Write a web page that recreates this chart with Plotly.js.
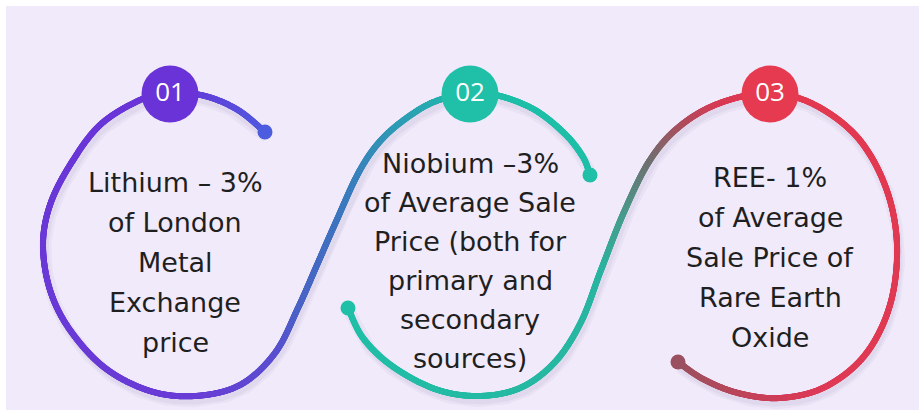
<!DOCTYPE html>
<html><head><meta charset="utf-8">
<script src="https://cdn.plot.ly/plotly-3.0.1.min.js"></script>
<style>html,body{margin:0;padding:0;background:#fff}#chart{width:923px;height:415px}</style>
</head><body><div id="chart"></div>
<script>
// ---- content ----
const badgeLabels = ['01', '02', '03'];
const badgeColors = ['#6a33d8', '#1fbfa8', '#e53a4f'];
const textLines1 = ['Lithium – 3%', 'of London', 'Metal', 'Exchange', 'price'];
const textLines2 = ['Niobium –3%', 'of Average Sale', 'Price (both for', 'primary and', 'secondary', 'sources)'];
const textLines3 = ['REE- 1%', 'of Average', 'Sale Price of', 'Rare Earth', 'Oxide'];

// ---- layout geometry (pixel space, y downward) ----
const W = 923, H = 415;
const badgeX = [170, 470, 770];
const badgeY = [94, 94, 94];
const textX = [175, 470, 770];
const textTop = [182, 163, 177];
const lineGap = [40, 39, 40];

// path waypoints: [x, y, colorStop or null]
const path1 = [
  [265,132,'#4d5ddf'],[238,110,null],[205,96,null],[170,93,'#6a35d8'],[140,100,null],[100,125,null],
  [70,165,null],[50,205,null],[43,245,null],[50,290,null],[70,330,null],[105,368,null],
  [150,391,null],[195,396,'#6a3dd6'],[240,385,null],[275,353,'#5a4fd0'],[298,308,'#4b62c6'],[317,265,null],
  [335,224,'#3f72c0'],[360,170,null],[385,136,null],[420,109,'#2aa6b2'],[448,97,null],[470,93,'#1fbfa8'],
  [500,96,null],[535,110,null],[565,134,null],[583,157,null],[590,175,'#1fbfa8']
];
const path2 = [
  [348,308,'#20c0a8'],[363,338,null],[392,366,null],[435,389,null],[478,396,null],[520,388,null],
  [555,362,null],[581,322,null],[601,270,'#2ab5a0'],[624,212,'#4a9a8c'],[650,160,'#707070'],[680,126,'#a8505f'],
  [720,103,'#d83a55'],[770,93,'#e33a50'],[815,105,null],[858,138,null],[886,188,null],[897,245,null],
  [890,305,null],[865,355,null],[825,387,'#df3a55'],[780,398,'#d23c58'],[738,393,null],[703,379,'#a84e5e'],[678,362,'#9a5060']
];

function hex2rgb(h){return [parseInt(h.slice(1,3),16),parseInt(h.slice(3,5),16),parseInt(h.slice(5,7),16)];}
function sampleSpline(pts){
  const xs=[], ys=[], idx=[];
  for(let i=0;i<pts.length-1;i++){
    const p0=pts[Math.max(i-1,0)], p1=pts[i], p2=pts[i+1], p3=pts[Math.min(i+2,pts.length-1)];
    const len=Math.hypot(p2[0]-p1[0],p2[1]-p1[1]);
    const n=Math.max(4,Math.ceil(len/0.6));
    for(let k=0;k<n;k++){
      const t=k/n, t2=t*t, t3=t2*t;
      const f=(a,b,c,d)=>0.5*((2*b)+(-a+c)*t+(2*a-5*b+4*c-d)*t2+(-a+3*b-3*c+d)*t3);
      xs.push(f(p0[0],p1[0],p2[0],p3[0])); ys.push(f(p0[1],p1[1],p2[1],p3[1])); idx.push(i+t);
    }
  }
  const last=pts[pts.length-1]; xs.push(last[0]); ys.push(last[1]); idx.push(pts.length-1);
  const stops=[]; pts.forEach((p,i)=>{if(p[2]) stops.push([i,hex2rgb(p[2])]);});
  const cols=idx.map(v=>{
    if(v<=stops[0][0]) return 'rgb('+stops[0][1].join(',')+')';
    for(let s=0;s<stops.length-1;s++){
      const a=stops[s], b=stops[s+1];
      if(v>=a[0]&&v<=b[0]){const u=(v-a[0])/(b[0]-a[0]);
        return 'rgb('+a[1].map((c,j)=>Math.round(c+(b[1][j]-c)*u)).join(',')+')';}
    }
    return 'rgb('+stops[stops.length-1][1].join(',')+')';
  });
  return {xs,ys,cols};
}

const traces=[];
// soft shadow
[path1,path2].forEach(p=>{
  const s=sampleSpline(p);
  [[12,0.05],[7,0.06]].forEach(([w,a])=>{
    traces.push({type:'scatter',mode:'lines',x:s.xs.map(v=>v+2),y:s.ys.map(v=>v+5),hoverinfo:'skip',
      line:{width:w,color:'rgba(90,70,130,'+a+')',shape:'linear'},showlegend:false});
  });
});
[path1,path2].forEach(p=>{
  const s=sampleSpline(p);
  traces.push({type:'scatter',mode:'markers',x:s.xs,y:s.ys,hoverinfo:'skip',
    marker:{size:6,color:s.cols,line:{width:0}},showlegend:false});
});
// end dots
const ends=[path1[0],path1[path1.length-1],path2[0],path2[path2.length-1]];
traces.push({type:'scatter',mode:'markers',x:ends.map(p=>p[0]),y:ends.map(p=>p[1]),hoverinfo:'skip',
  marker:{size:15,color:ends.map(p=>p[2]),line:{width:0}},showlegend:false});
// badges
traces.push({type:'scatter',mode:'markers+text',x:badgeX,y:badgeY,text:badgeLabels,
  textposition:'middle center',textfont:{family:'Open Sans, sans-serif',size:26,color:'#ffffff'},hoverinfo:'skip',
  marker:{size:57,color:badgeColors,line:{width:0}},showlegend:false});

const annotations=[];
[textLines1,textLines2,textLines3].forEach((lines,g)=>{
  lines.forEach((t,i)=>{
    annotations.push({x:textX[g],y:textTop[g]+i*lineGap[g],xref:'x',yref:'y',text:t,showarrow:false,
      xanchor:'center',yanchor:'middle',font:{family:'DejaVu Sans, sans-serif',size:27,color:'#1f1f1f'}});
  });
});

const layout={
  width:W,height:H,margin:{l:0,r:0,t:0,b:0},paper_bgcolor:'#ffffff',plot_bgcolor:'rgba(0,0,0,0)',
  xaxis:{range:[0,W],visible:false,fixedrange:true},
  yaxis:{range:[H,0],visible:false,fixedrange:true},
  shapes:[{type:'rect',xref:'x',yref:'y',x0:6,y0:6,x1:919,y1:410,fillcolor:'#f1eafa',line:{width:0},layer:'below'}],
  annotations:annotations,showlegend:false
};
Plotly.newPlot('chart',traces,layout,{staticPlot:true,displayModeBar:false});
</script></body></html>
